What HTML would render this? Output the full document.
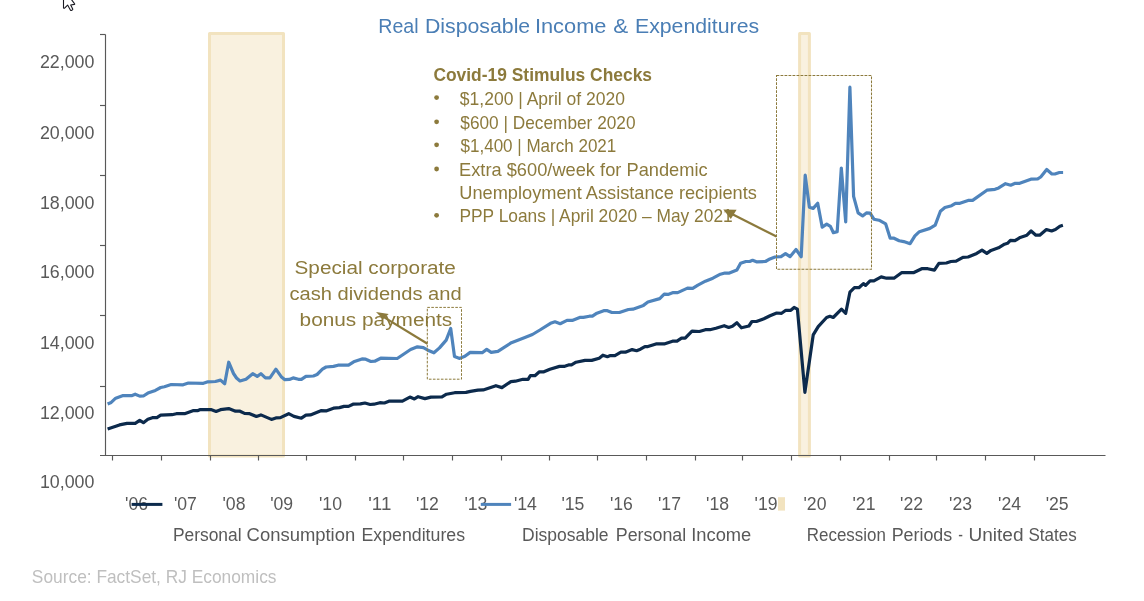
<!DOCTYPE html>
<html><head><meta charset="utf-8"><title>Real Disposable Income &amp; Expenditures</title>
<style>
html,body{margin:0;padding:0;background:#fff;}
body{width:1144px;height:601px;overflow:hidden;}
svg{display:block;will-change:transform;}
text{font-family:"Liberation Sans",sans-serif;}
</style></head><body>
<svg width="1144" height="601" viewBox="0 0 1144 601">
<rect x="0" y="0" width="1144" height="601" fill="#ffffff"/>

<rect x="209.5" y="33.5" width="74" height="422.5" fill="#F9F1DF" stroke="#F2E3BF" stroke-width="3" stroke-linejoin="round"/>
<rect x="799.6" y="33.5" width="9.8" height="422.5" fill="#F9F1DF" stroke="#F2E3BF" stroke-width="3" stroke-linejoin="round"/>
<g stroke="#595959" stroke-width="1.15" fill="none">
<path d="M105.5,34.5 V455.5 M100,455.5 H1105.5"/>
<path d="M100,34.5 H105.5"/>
<path d="M100,105.5 H105.5"/>
<path d="M100,175.5 H105.5"/>
<path d="M100,245.5 H105.5"/>
<path d="M100,315.5 H105.5"/>
<path d="M100,386.5 H105.5"/>
<path d="M112.5,455.5 V460.5"/>
<path d="M161.5,455.5 V460.5"/>
<path d="M210.5,455.5 V460.5"/>
<path d="M258.5,455.5 V460.5"/>
<path d="M306.5,455.5 V460.5"/>
<path d="M355.5,455.5 V460.5"/>
<path d="M403.5,455.5 V460.5"/>
<path d="M452.5,455.5 V460.5"/>
<path d="M501.5,455.5 V460.5"/>
<path d="M549.5,455.5 V460.5"/>
<path d="M597.5,455.5 V460.5"/>
<path d="M646.5,455.5 V460.5"/>
<path d="M695.5,455.5 V460.5"/>
<path d="M742.5,455.5 V460.5"/>
<path d="M791.5,455.5 V460.5"/>
<path d="M840.5,455.5 V460.5"/>
<path d="M889.5,455.5 V460.5"/>
<path d="M936.5,455.5 V460.5"/>
<path d="M985.5,455.5 V460.5"/>
<path d="M1034.5,455.5 V460.5"/>
</g>
<polyline points="107.6,429 119.5,424.9 127,423.4 135.2,423.4 139.7,420.4 143.4,422.7 147.9,419.2 152.4,417.7 156.9,417.7 160.7,415.2 171.9,414.7 176.4,413.7 184.6,413.7 192.9,410.7 197.4,410.7 200.4,409.5 210.9,409.6 216.1,411.4 220.5,409.7 228.7,408.6 235.5,411.2 240,411.2 244.5,413.4 249.7,413.7 256.4,416.4 260.9,414.9 271.4,419.4 275.9,417.9 280.4,417.6 288.7,413.7 293.9,416.4 301.4,418.2 305.9,415.2 310.4,414.9 320.9,410.7 326,410.9 333.5,408.2 339.5,407.6 344,406.4 348.5,406.4 353,404.2 360.4,403.9 364.9,403 370.2,404.5 373.9,404.2 379.9,402.7 384.4,403 388.9,401.2 402.4,401.2 409.9,397.1 414.4,398.9 418.1,396.7 424.9,398.6 430.9,397.1 442,396.9 446.5,394.2 454.7,392.7 466,392.4 470.4,391.4 477.9,390.2 483.2,389.9 495.9,385.7 501.9,387.6 510.9,381.6 515.4,381.2 522.9,379.3 528.1,379.3 530.4,375.5 534.9,375.7 539.4,371.8 543.9,371.8 549.9,369.2 559.5,366.4 564,366.4 568.5,364.9 571.5,364.9 576,362.2 585,360.4 591.7,360.4 599.2,358.2 602.9,355.2 607.4,356.7 610.4,355.6 614.9,355.6 620.9,352.2 625.4,352.2 632.1,349.6 636.6,350.7 640.4,349.2 644.9,346.6 647.9,346.6 656,343.9 664.2,343.9 672.5,341.2 677,341.2 681.5,338.2 685.2,338.2 692,331.2 699.4,331.5 705.4,329.7 709.9,329.7 715.9,328.2 724.2,325.7 728.7,327.5 732.4,326.3 736.9,322.7 741.4,327.8 748.9,326 751.9,321.5 756.4,321.5 763.9,318.8 770,315.8 776.7,313 781.6,313.3 785.8,310.3 790.8,310.3 794.1,307.5 797.4,309.2 804.9,392.3 813.2,334.9 818.2,326.6 826.6,317.5 829.9,316.3 833.2,317.5 841.5,309.2 845.7,313.3 849.9,292.2 854.4,287.7 858.9,287.7 863.4,283.6 865.6,285.4 870.1,280.9 873.9,280.9 881.2,276.9 886.5,278.2 894,278.2 901.5,272.7 913.4,272.7 921.7,268.7 927.7,268.7 934.4,270.1 938.9,263.3 946.4,263 950.9,261.5 956.1,261.2 962.9,257.4 968.1,257 976.7,253.4 982,250.1 986.8,253.4 991,250.4 998.5,247.8 1004.5,244.2 1007.5,243.3 1010.4,240.4 1014.9,240.7 1020.2,237.4 1026.9,235.2 1031.1,231 1035.9,235.2 1039.7,235.2 1046.4,229.5 1051.6,231 1055.4,229.5 1059.9,226.2 1062.9,225.3" fill="none" stroke="#0C2A4C" stroke-width="3.2" stroke-linejoin="round" stroke-linecap="butt"/>
<polyline points="107.6,403.9 111.2,402.4 115.7,398.2 122.5,395.7 131.5,395.7 135.2,394.2 139.7,396.1 143.4,396 147.9,393.1 155.4,390.4 160.7,387.5 164.4,386.7 171.2,384.5 183.1,384.8 188.4,383 203.4,383.3 207.9,381.8 215.4,381.5 220.5,380.1 224.7,383.7 228.7,362.2 233.5,373.5 236.5,378 240,381 246,379.3 252.7,373.7 257.2,376.4 260.9,373.7 265.4,377.9 269.9,377.9 275.9,369.2 281.2,376.7 284.9,379.7 289.4,379.4 293.1,377.9 298.4,379.3 301.4,379.3 305.9,376.3 313.4,376 317.1,374.5 322.4,369.2 326.1,367 333.5,366.4 338,365.2 348.5,365.2 353.7,361.8 362,358.9 365.7,359.2 370.9,361.5 374.7,361.2 380.7,358.2 397.2,358.5 403.9,354 410.6,349.5 417.4,346.8 423.4,347.7 427.9,350.2 433.9,352.8 439.5,347.9 446.2,340.1 450.7,328.5 454.5,356.6 459.7,358.4 464.9,356.2 470.2,352.4 482.2,352.7 486.7,349.4 491.2,352.4 497.9,351.4 511.4,342.7 524.9,337.5 532.4,334.5 539.9,330 550.5,323.3 555,321.8 560.2,323.7 567,320.4 572.2,320.4 579.7,317.4 583.4,317.4 589.4,316.2 592.4,316.2 596.9,313.2 603.7,310.7 607.4,310.7 611.9,312.5 619.4,312.5 628.4,309.5 632.9,309.2 643.4,305.4 647.9,302 659.7,298.6 664.2,294.1 668,294.4 673.2,292.6 677.7,292.6 687.5,288.1 692.7,288.4 697.9,285.1 705.4,281.2 712.9,278.2 720.4,274.2 724.9,273 729.4,273.1 736.9,270.1 740.6,263.3 745.9,261.5 749.6,261.5 752.6,260.3 756.4,261.8 765.4,261.5 769.9,258.9 775,257 781,256.7 785.5,253.7 790,256.7 796,249.5 801.2,256.7 805.2,175.2 809.4,207.2 813.2,208.4 817.7,203.2 822.2,227.2 826.7,224.2 830.4,226.4 833.4,232.7 837.2,231.6 841.3,168 845.7,221.9 849.9,87.2 853.6,196.4 858.1,212.9 862.6,215.9 866.4,212.9 870.1,213.2 873.9,219.2 879,220.2 885.7,223.9 890.2,238.2 894,238.2 899.2,240.7 903.7,241.6 910.1,243.7 914.9,235.9 919.4,231.7 929.9,228.4 935.2,225.1 940.4,211.2 944.9,207.5 951.6,205.7 955.4,203.3 959.9,203.3 968.1,200.4 972.6,200.4 986.9,190.2 995,189.3 998.7,187.9 1005.5,183.7 1010.7,185.2 1015.2,183.3 1019.7,183.3 1030.9,179.2 1037.7,178.8 1040.7,177 1046.7,169.5 1051.9,174 1054.9,174 1059.4,172.5 1063.1,172.5" fill="none" stroke="#4F84BC" stroke-width="3.2" stroke-linejoin="round" stroke-linecap="butt"/>
<rect x="427.3" y="307.4" width="34.2" height="71.8" fill="none" stroke="#8C7A3C" stroke-width="1.0" stroke-dasharray="2.6,1.4"/>
<rect x="776.5" y="75.5" width="95" height="193.8" fill="none" stroke="#8C7A3C" stroke-width="1.05" stroke-dasharray="2.8,1.2"/>
<text x="94.4" y="68.0" font-size="18.4" text-anchor="end" fill="#595959" textLength="54.5" lengthAdjust="spacingAndGlyphs">22,000</text>
<text x="94.4" y="138.9" font-size="18.4" text-anchor="end" fill="#595959" textLength="54.5" lengthAdjust="spacingAndGlyphs">20,000</text>
<text x="94.4" y="209.2" font-size="18.4" text-anchor="end" fill="#595959" textLength="54.5" lengthAdjust="spacingAndGlyphs">18,000</text>
<text x="94.4" y="277.7" font-size="18.4" text-anchor="end" fill="#595959" textLength="54.5" lengthAdjust="spacingAndGlyphs">16,000</text>
<text x="94.4" y="349.2" font-size="18.4" text-anchor="end" fill="#595959" textLength="54.5" lengthAdjust="spacingAndGlyphs">14,000</text>
<text x="94.4" y="418.9" font-size="18.4" text-anchor="end" fill="#595959" textLength="54.5" lengthAdjust="spacingAndGlyphs">12,000</text>
<text x="94.4" y="488.4" font-size="18.4" text-anchor="end" fill="#595959" textLength="54.5" lengthAdjust="spacingAndGlyphs">10,000</text>
<text x="125.1" y="509.9" font-size="18.5" fill="#595959" textLength="23" lengthAdjust="spacingAndGlyphs">&#39;06</text>
<text x="173.9" y="509.9" font-size="18.5" fill="#595959" textLength="23" lengthAdjust="spacingAndGlyphs">&#39;07</text>
<text x="222.5" y="509.9" font-size="18.5" fill="#595959" textLength="23" lengthAdjust="spacingAndGlyphs">&#39;08</text>
<text x="270.2" y="509.9" font-size="18.5" fill="#595959" textLength="23" lengthAdjust="spacingAndGlyphs">&#39;09</text>
<text x="319.0" y="509.9" font-size="18.5" fill="#595959" textLength="23" lengthAdjust="spacingAndGlyphs">&#39;10</text>
<text x="368.3" y="509.9" font-size="18.5" fill="#595959" textLength="23" lengthAdjust="spacingAndGlyphs">&#39;11</text>
<text x="415.9" y="509.9" font-size="18.5" fill="#595959" textLength="23" lengthAdjust="spacingAndGlyphs">&#39;12</text>
<text x="464.4" y="509.9" font-size="18.5" fill="#595959" textLength="23" lengthAdjust="spacingAndGlyphs">&#39;13</text>
<text x="513.9" y="509.9" font-size="18.5" fill="#595959" textLength="23" lengthAdjust="spacingAndGlyphs">&#39;14</text>
<text x="561.4" y="509.9" font-size="18.5" fill="#595959" textLength="23" lengthAdjust="spacingAndGlyphs">&#39;15</text>
<text x="609.9" y="509.9" font-size="18.5" fill="#595959" textLength="23" lengthAdjust="spacingAndGlyphs">&#39;16</text>
<text x="658.0" y="509.9" font-size="18.5" fill="#595959" textLength="23" lengthAdjust="spacingAndGlyphs">&#39;17</text>
<text x="706.1" y="509.9" font-size="18.5" fill="#595959" textLength="23" lengthAdjust="spacingAndGlyphs">&#39;18</text>
<text x="754.6" y="509.9" font-size="18.5" fill="#595959" textLength="23" lengthAdjust="spacingAndGlyphs">&#39;19</text>
<text x="803.5" y="509.9" font-size="18.5" fill="#595959" textLength="23" lengthAdjust="spacingAndGlyphs">&#39;20</text>
<text x="852.5" y="509.9" font-size="18.5" fill="#595959" textLength="23" lengthAdjust="spacingAndGlyphs">&#39;21</text>
<text x="900.1" y="509.9" font-size="18.5" fill="#595959" textLength="23" lengthAdjust="spacingAndGlyphs">&#39;22</text>
<text x="949.1" y="509.9" font-size="18.5" fill="#595959" textLength="23" lengthAdjust="spacingAndGlyphs">&#39;23</text>
<text x="998.1" y="509.9" font-size="18.5" fill="#595959" textLength="23" lengthAdjust="spacingAndGlyphs">&#39;24</text>
<text x="1045.7" y="509.9" font-size="18.5" fill="#595959" textLength="23" lengthAdjust="spacingAndGlyphs">&#39;25</text>
<line x1="131.6" y1="504.4" x2="162.4" y2="504.4" stroke="#0C2A4C" stroke-width="3"/>
<line x1="480.8" y1="504.4" x2="511.1" y2="504.4" stroke="#4F84BC" stroke-width="3"/>
<rect x="778" y="497.2" width="7" height="13.4" fill="#F2E3BF"/>
<text x="378.25" y="32.6" font-size="20.5" fill="#4A7EB5" textLength="40.33" lengthAdjust="spacingAndGlyphs">Real</text>
<text x="424.94" y="32.6" font-size="20.5" fill="#4A7EB5" textLength="105.26" lengthAdjust="spacingAndGlyphs">Disposable</text>
<text x="534.95" y="32.6" font-size="20.5" fill="#4A7EB5" textLength="71.49" lengthAdjust="spacingAndGlyphs">Income</text>
<text x="613.19" y="32.6" font-size="20.5" fill="#4A7EB5" textLength="14.97" lengthAdjust="spacingAndGlyphs">&amp;</text>
<text x="634.95" y="32.6" font-size="20.5" fill="#4A7EB5" textLength="124.24" lengthAdjust="spacingAndGlyphs">Expenditures</text>
<text x="172.88" y="541" font-size="18.9" fill="#595959" textLength="68.69" lengthAdjust="spacingAndGlyphs">Personal</text>
<text x="246.62" y="541" font-size="18.9" fill="#595959" textLength="108.59" lengthAdjust="spacingAndGlyphs">Consumption</text>
<text x="361.54" y="541" font-size="18.9" fill="#595959" textLength="103.49" lengthAdjust="spacingAndGlyphs">Expenditures</text>
<text x="522.09" y="541" font-size="18.9" fill="#595959" textLength="86.53" lengthAdjust="spacingAndGlyphs">Disposable</text>
<text x="615.82" y="541" font-size="18.9" fill="#595959" textLength="70.36" lengthAdjust="spacingAndGlyphs">Personal</text>
<text x="691.22" y="541" font-size="18.9" fill="#595959" textLength="60.05" lengthAdjust="spacingAndGlyphs">Income</text>
<text x="806.83" y="541" font-size="18.9" fill="#595959" textLength="79.02" lengthAdjust="spacingAndGlyphs">Recession</text>
<text x="891.63" y="541" font-size="18.9" fill="#595959" textLength="60.64" lengthAdjust="spacingAndGlyphs">Periods</text>
<text x="958.33" y="541" font-size="18.9" fill="#595959" textLength="4.66" lengthAdjust="spacingAndGlyphs">-</text>
<text x="968.47" y="541" font-size="18.9" fill="#595959" textLength="55.01" lengthAdjust="spacingAndGlyphs">United</text>
<text x="1028.48" y="541" font-size="18.9" fill="#595959" textLength="48.25" lengthAdjust="spacingAndGlyphs">States</text>
<text x="31.87" y="582.6" font-size="18.2" fill="#BFBFBF" textLength="244.64" lengthAdjust="spacingAndGlyphs">Source: FactSet, RJ Economics</text>
<text x="294.56" y="273.7" font-size="18.9" fill="#8C7A3C" textLength="161.31" lengthAdjust="spacingAndGlyphs">Special corporate</text>
<text x="289.51" y="299.5" font-size="18.9" fill="#8C7A3C" textLength="172.13" lengthAdjust="spacingAndGlyphs">cash dividends and</text>
<text x="299.60" y="325.6" font-size="18.9" fill="#8C7A3C" textLength="152.63" lengthAdjust="spacingAndGlyphs">bonus payments</text>
<text x="433.38" y="80.9" font-size="18" font-weight="bold" fill="#8C7A3C" textLength="218.64" lengthAdjust="spacingAndGlyphs">Covid-19 Stimulus Checks</text>
<text x="459.83" y="104.7" font-size="17.9" fill="#8C7A3C" textLength="165.12" lengthAdjust="spacingAndGlyphs">$1,200 | April of 2020</text>
<text x="460.35" y="128.9" font-size="17.9" fill="#8C7A3C" textLength="175.17" lengthAdjust="spacingAndGlyphs">$600 | December 2020</text>
<text x="460.53" y="151.9" font-size="17.9" fill="#8C7A3C" textLength="155.76" lengthAdjust="spacingAndGlyphs">$1,400 | March 2021</text>
<text x="459.01" y="176.1" font-size="17.9" fill="#8C7A3C" textLength="248.65" lengthAdjust="spacingAndGlyphs">Extra $600/week for Pandemic</text>
<text x="459.29" y="199.1" font-size="17.9" fill="#8C7A3C" textLength="297.58" lengthAdjust="spacingAndGlyphs">Unemployment Assistance recipients</text>
<text x="459.43" y="222.4" font-size="17.9" fill="#8C7A3C" textLength="273.27" lengthAdjust="spacingAndGlyphs">PPP Loans | April 2020 – May 2021</text>
<circle cx="436.6" cy="97.6" r="2.4" fill="#8C7A3C"/>
<circle cx="436.6" cy="121.8" r="2.4" fill="#8C7A3C"/>
<circle cx="436.6" cy="144.8" r="2.4" fill="#8C7A3C"/>
<circle cx="436.6" cy="169" r="2.4" fill="#8C7A3C"/>
<circle cx="436.6" cy="215.3" r="2.4" fill="#8C7A3C"/>
<line x1="427.5" y1="343.7" x2="381" y2="315.4" stroke="#8C7A3C" stroke-width="2.2"/>
<polygon points="376,312.1 388.7,314 383.1,319.2" fill="#8C7A3C"/>
<line x1="776.5" y1="236.6" x2="728" y2="212" stroke="#8C7A3C" stroke-width="2.2"/>
<polygon points="723.3,209.6 736.6,209.8 730.8,219.1" fill="#8C7A3C"/>
<path d="M63.5,-1 V7.8 Q63.7,8.7 64.6,8.1 L67.6,5.1 L70.5,10.2 Q70.9,10.7 71.6,10.4 L72.5,9.8 Q72.9,9.5 72.7,9 L70.7,5 L74.3,4.4 Q75,4.2 74.5,3.6 L71,-1" fill="#fff" stroke="#1a1a22" stroke-width="1.1" stroke-linejoin="round"/>
</svg>
</body></html>
